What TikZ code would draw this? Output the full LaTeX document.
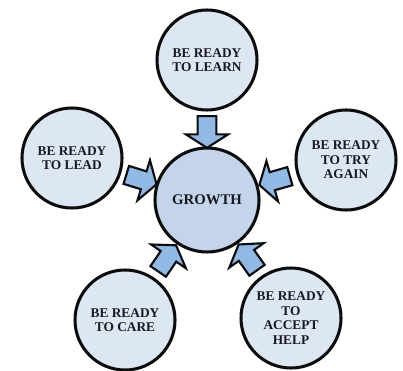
\documentclass[tikz,border=0pt]{standalone}
\usepackage{fontspec}
\setmainfont{Liberation Serif}
\usepackage{tikz}
\usetikzlibrary{shapes.arrows,calc}
\definecolor{ringfill}{RGB}{221,231,243}
\definecolor{corefill}{RGB}{196,213,235}
\definecolor{arrowfill}{RGB}{146,184,228}
\definecolor{inkline}{RGB}{12,12,12}
\definecolor{inktext}{RGB}{25,25,35}
\tikzset{
    goal circle/.style={circle,draw=inkline,line width=2.6pt,fill=ringfill,text=inktext,minimum size=3cm,inner sep=0pt,align=center,font=\fontsize{11.4}{12.4}\selectfont\bfseries},
    core circle/.style={goal circle,fill=corefill,minimum size=3.12cm,font=\fontsize{12.6}{13.5}\selectfont\bfseries},
    push arrow/.style={single arrow,draw=inkline,line width=1.8pt,fill=arrowfill,inner sep=0pt,inner ysep=0.25cm,minimum height=0.95cm,single arrow head extend=0.35cm,single arrow tip angle=115,sloped,allow upside down},
}

\begin{document}
\begin{tikzpicture}[x=0.03cm,y=-0.03cm]
    \useasboundingbox (0,0) rectangle (403,370);
    \node[core circle] (growth) at (207,200) {GROWTH};
    \node[goal circle] (learn) at (207,60) {BE READY\\TO LEARN};
    \node[goal circle] (lead) at (72,158) {BE READY\\TO LEAD};
    \node[goal circle] (tryagain) at (346,160) {BE READY\\TO TRY\\AGAIN};
    \node[goal circle] (care) at (125,320) {BE READY\\TO CARE};
    \node[goal circle] (help) at (291,318) {BE READY\\TO\\ACCEPT\\HELP};
    % arrows sit halfway in the gap, pointing in
    \foreach \src in {learn,lead,tryagain,care,help}
        \path (\src) -- (growth) node[push arrow,pos=.5] (\src-arrow) {};
\end{tikzpicture}
\end{document}
